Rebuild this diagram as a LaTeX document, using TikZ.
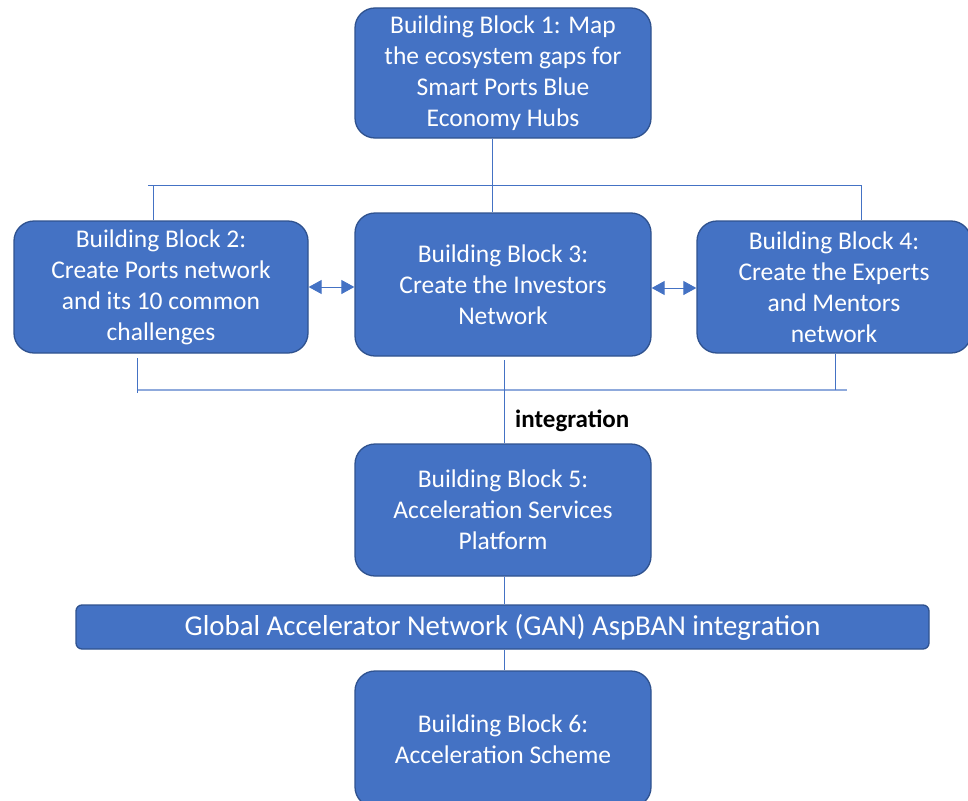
\documentclass[tikz,border=0pt]{standalone}
\usepackage{fontspec}
\setmainfont{Carlito}
\usetikzlibrary{arrows.meta}
\definecolor{blockfill}{HTML}{4472C4}
\definecolor{blockedge}{HTML}{2F528F}
\definecolor{linkblue}{HTML}{4472C4}
\definecolor{buslight}{HTML}{8FAADC}
\begin{document}
\begin{tikzpicture}[x=1pt,y=-1pt,
  block/.style={draw=blockedge, line width=1.3pt, fill=blockfill, rounded corners=20pt,
    text=white, align=center, inner sep=0pt, font=\fontsize{25.5}{31}\selectfont},
  link/.style={draw=linkblue, line width=1pt},
  twoway/.style={link, {Triangle[length=13pt,width=14pt]}-{Triangle[length=13pt,width=14pt]}}
]
\useasboundingbox (0,0) rectangle (968,800);
\clip (0,0) rectangle (968,800);

% building blocks
\node[block, minimum width=296pt, minimum height=130pt] (b1) at (503,73)
  {Building Block 1: Map\\the ecosystem gaps for\\Smart Ports Blue\\Economy Hubs};
\node[block, minimum width=294pt, minimum height=132pt] (b2) at (161,287)
  {Building Block 2:\\Create Ports network\\and its 10 common\\challenges};
\node[block, minimum width=296pt, minimum height=143pt] (b3) at (503,284.5)
  {Building Block 3:\\Create the Investors\\Network};
\node[block, minimum width=274pt, minimum height=132pt] (b4) at (834,287)
  {Building Block 4:\\Create the Experts\\and Mentors\\network};
\node[block, minimum width=296pt, minimum height=132pt] (b5) at (503,510)
  {Building Block 5:\\Acceleration Services\\Platform};
\node[block, rounded corners=6pt, minimum width=853pt, minimum height=44pt,
  font=\fontsize{28.8}{32}\selectfont] (gan) at (502.5,627)
  {Global Accelerator Network (GAN) AspBAN integration};
\node[block, minimum width=296pt, minimum height=136pt] (b6) at (503,739)
  {Building Block 6:\\Acceleration Scheme};

% upper distribution bus
\coordinate (topL) at (148,185);
\coordinate (topR) at (861,185);
\draw[link] (topL) -- (topR);
\draw[link] (b1.south -| 492,0) -- (b3.north -| 492,0);
\draw[link] (153,185) -- (b2.north -| 153,0);
\draw[link] (861,185) -- (b4.north -| 861,0);

% lower integration bus
\coordinate (lowL) at (137,390);
\coordinate (lowR) at (847,390);
\draw[draw=buslight, line width=2pt] (lowL) -- (lowR);
\draw[link] (137,358) -- (137,393);
\draw[link] (b4.south -| 835,0) -- (835,390);
\draw[link] (504,360) -- (b5.north -| 504,0);
\node[anchor=west, font=\bfseries\fontsize{25}{28}\selectfont, inner sep=0pt] (integ) at (515,421) {integration};

% two-way links between neighbouring networks
\draw[twoway] (b2.east |- 0,287) -- (b3.west |- 0,287);
\draw[twoway] (b3.east |- 0,288) -- (b4.west |- 0,288);

% platform chain
\draw[link] (b5.south -| 504,0) -- (gan.north -| 504,0);
\draw[link] (gan.south -| 504,0) -- (b6.north -| 504,0);
\end{tikzpicture}
\end{document}
